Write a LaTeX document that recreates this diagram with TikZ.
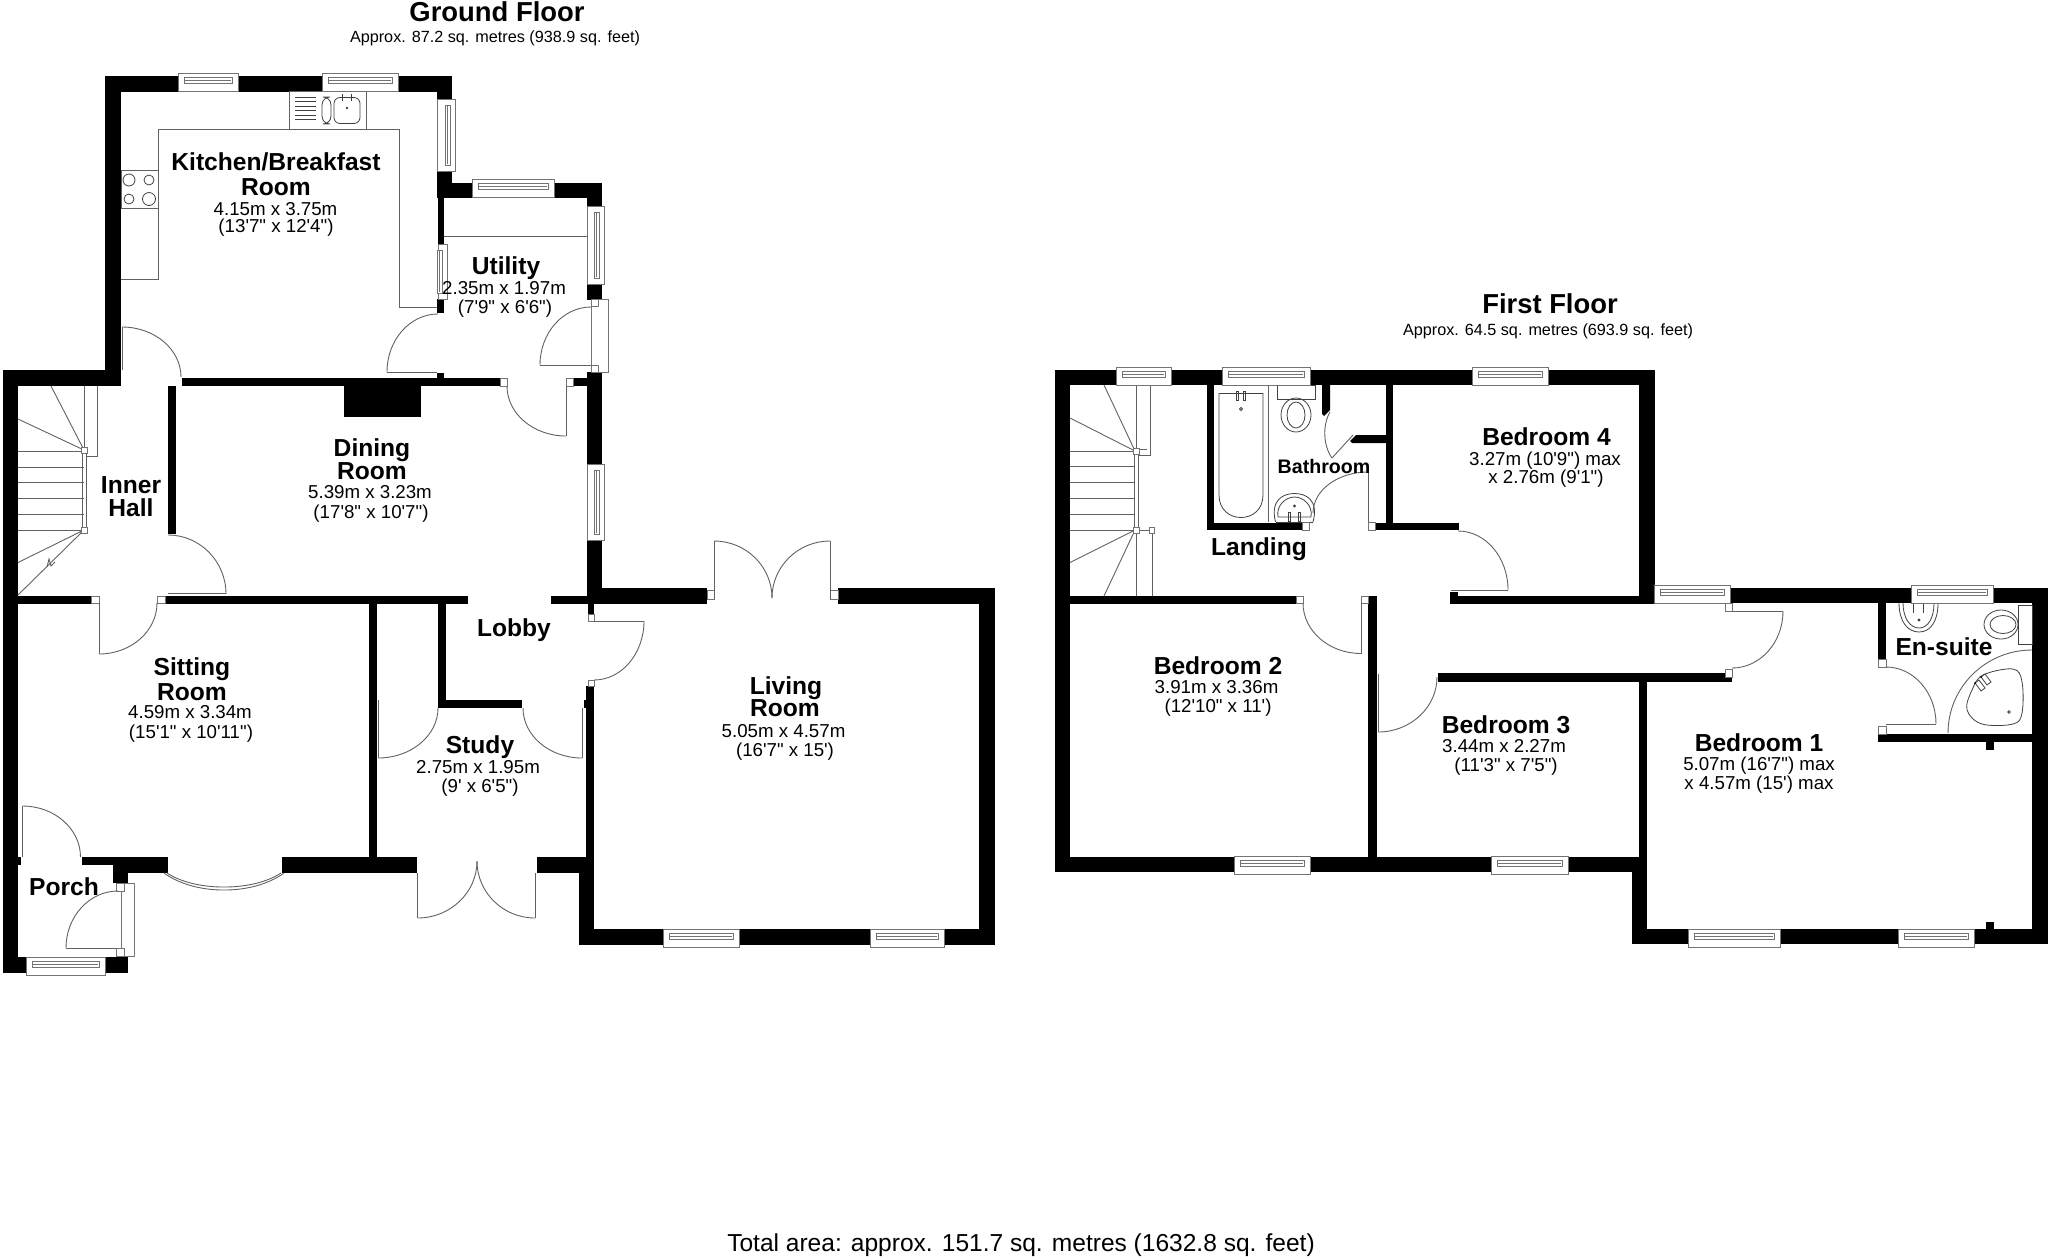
\documentclass[tikz,border=0pt]{standalone}
\usepackage{fontspec}
\setmainfont{Liberation Sans}[Ligatures=TeXOff]
\usetikzlibrary{calc}
\tikzset{
 wall/.style={fill=black},
 ln/.style={draw=black!62,line width=0.45pt,line join=miter},
 fx/.style={draw=black!75,line width=0.4pt},
 win/.style={draw=black!55,line width=0.45pt,fill=white},
 jamb/.style={draw=black!55,line width=0.4pt,fill=white},
 rt/.style={font=\fontsize{12.3}{14}\bfseries\selectfont,inner sep=0pt,text height=8.8pt,text depth=0pt},
 rs/.style={font=\fontsize{9.35}{11}\selectfont,inner sep=0pt,text height=6.7pt,text depth=0pt},
 rb/.style={font=\fontsize{9.8}{11}\bfseries\selectfont,inner sep=0pt,text height=7pt,text depth=0pt},
 ttl/.style={font=\fontsize{13.7}{15}\bfseries\selectfont,inner sep=0pt,text height=9.8pt,text depth=0pt},
 sub/.style={font=\fontsize{8.1}{10}\selectfont,inner sep=0pt,text height=5.8pt,text depth=0pt},
 tot/.style={font=\fontsize{12.27}{14}\selectfont,inner sep=0pt,text height=8.8pt,text depth=0pt},
}
\newcommand{\Wl}[4]{\fill[wall] (#1,#2) rectangle (#3,#4);}
\newcommand{\Jb}[4]{\draw[jamb] (#1,#2) rectangle (#3,#4);}
\newcommand{\Lf}[4]{\draw[ln] (#1,#2) -- (#3,#4);}
% arc from A to B, bulging towards corner K
\newcommand{\Ar}[6]{\draw[ln] (#1,#2) .. controls ($(#1,#2)!.552!(#5,#6)$) and ($(#3,#4)!.552!(#5,#6)$) .. (#3,#4);}
% horizontal window x1 y1 x2 y2
\newcommand{\HW}[4]{%
 \draw[win] (#1,#2) rectangle (#3,#4);
 \draw[win] ($(#1,#2)+(6,4.5)$) rectangle ($(#3,#2)+(-6,10)$);
 \draw[win] ($(#1,#2)+(7,7.2)$) -- ($(#3,#2)+(-7,7.2)$);}
% vertical window
\newcommand{\VW}[4]{%
 \draw[win] (#1,#2) rectangle (#3,#4);
 \draw[win] ($(#3,#2)+(-4.5,6)$) rectangle ($(#3,#4)+(-10,-6)$);
 \draw[win] ($(#3,#2)+(-7.2,7)$) -- ($(#3,#4)+(-7.2,-7)$);}
\begin{document}
\begin{tikzpicture}[x=0.5pt,y=-0.5pt]
\useasboundingbox (0,0) rectangle (2048,1259);
% ---------- GROUND FLOOR: walls
\Wl{105}{76}{452}{91.5}
\Wl{105}{76}{121}{386}
\Wl{3}{370}{121}{386}
\Wl{3}{370}{18}{973}
\Wl{437}{76}{452}{197}
\Wl{437}{182.5}{602}{197.5}
\Wl{438}{197}{444}{245}
\Wl{437}{299}{444}{313}
\Wl{587}{182.5}{602}{300}
\Wl{587}{372}{602}{603}
\Wl{437}{373}{444}{380}
\Wl{182}{378}{500}{386}
\Wl{344}{378}{421}{417}
\Wl{573}{378}{587}{386}
\Wl{168}{386}{175.5}{534}
\Wl{18}{596}{91}{603.5}
\Wl{165}{596}{468}{603.5}
\Wl{551}{596}{588}{603.5}
\Wl{588}{588}{707}{603.5}
\Wl{838}{588}{995}{603.5}
\Wl{979}{588}{995}{945}
\Wl{579}{929}{995}{945}
\Wl{579}{873}{594}{945}
\Wl{586}{686}{594}{873}
\Wl{588}{603}{594}{615}
\Wl{369}{603}{377}{857}
\Wl{282}{857}{417}{873}
\Wl{537}{857}{586}{873}
\Wl{438}{603}{446}{708}
\Wl{438}{700}{522}{708}
\Wl{584}{700}{588}{708}
\Wl{82}{857}{168}{865}
\Wl{113}{857}{168}{873}
\Wl{113}{873}{128}{883}
\Wl{18}{857}{21}{865}
\Wl{3}{957}{26}{973}
\Wl{105}{957}{128}{973}
% ground floor fixtures
\draw[ln] (121,279) -- (158,279) -- (158,129) -- (399,129) -- (399,307) -- (437,307);
\draw[ln] (289,91) rectangle (366,129);
\foreach \yy in {97,101.5,106,110.5,115,119} {\draw[fx] (295,\yy) -- (316,\yy);}
\draw[fx,rounded corners=4pt] (322,97) rectangle (331,124);
\draw[fx,rounded corners=3pt] (334,97.5) rectangle (360,123.5);
\draw[fx] (342,94) -- (342,101) (351,94) -- (351,101);
\draw[fx] (347,108) circle (0.8);
\draw[ln] (121,170) rectangle (158,208);
\draw[fx] (129,180) circle (6);
\draw[fx] (149,180) circle (5);
\draw[fx] (129,199) circle (5);
\draw[fx] (149,199) circle (6.5);
\draw[ln] (444,236) -- (587,236);
% ground floor stairs
\draw[ln] (84,386) -- (84,450);
\draw[ln] (97,386) -- (97,456) -- (86,456);
\draw[ln] (82,450) -- (82,530) (86,450) -- (86,530);
\draw[ln] (84,450) -- (51,386) (84,450) -- (18,419);
\foreach \yy in {451,467,482.5,498.5,514,530} {\draw[ln] (18,\yy) -- (84,\yy);}
\draw[ln] (84,530) -- (18,562.5) (84,530) -- (18,595);
\draw[ln] (47,567) -- (49,559) -- (51,566) -- (55,562);
\Jb{81}{447}{87}{453}
\Jb{81}{527}{87}{533}
% ground floor doors
\Lf{122}{327}{122}{370}
\Ar{122}{327}{181}{377}{181}{327}
\Lf{387}{372}{437}{372}
\Ar{387}{372}{438}{314}{387}{314}
\Lf{566}{386}{566}{436}
\Ar{507}{386}{566}{436}{507}{436}
\Jb{500}{378}{507}{386}
\Jb{566}{378}{573}{386}
\draw[win] (591,299) rectangle (608,372);
\Jb{591}{299}{598}{306}
\Jb{591}{365}{598}{372}
\Lf{540}{365}{591}{365}
\Ar{540}{365}{591}{307}{540}{307}
\Ar{168}{535}{226}{594}{226}{535}
\Lf{168}{593}{226}{593}
\Jb{91}{596}{99}{603.5}
\Jb{157}{596}{165}{603.5}
\Lf{99}{603}{99}{654}
\Ar{157}{603}{99}{654}{157}{654}
\Jb{707}{590}{714}{599}
\Jb{830}{590}{838}{599}
\Lf{714}{599}{714}{541}
\Lf{830}{599}{830}{541}
\Ar{714}{541}{772}{598}{772}{541}
\Ar{830}{541}{772}{598}{772}{541}
\Jb{588}{614}{594}{621}
\Jb{588}{680}{594}{686}
\Lf{594}{621}{644}{621}
\Ar{644}{621}{594}{680}{644}{680}
\Lf{378}{700}{378}{758}
\Ar{378}{758}{438}{708}{438}{758}
\Lf{582}{708}{582}{758}
\Ar{523}{708}{582}{758}{523}{758}
\Lf{417.5}{873}{417.5}{918}
\Lf{535}{873}{535}{918}
\Ar{417.5}{918}{477}{861}{477}{918}
\Ar{535}{918}{477}{861}{477}{918}
\Lf{22.5}{806}{22.5}{857}
\Ar{22.5}{806}{80.5}{857}{80.5}{806}
\draw[win] (121,883) rectangle (134,956);
\Jb{116}{883}{124}{891}
\Jb{116}{948}{124}{956}
\Lf{66}{948}{116}{948}
\Ar{66}{948}{118}{891}{66}{891}
\draw[ln] (164,873) .. controls (195,895.7) and (253,895.7) .. (284,873);
\draw[ln] (167,873) .. controls (195,891.7) and (253,891.7) .. (281,873);
% ground floor windows
\HW{178}{73}{238}{91.5}
\HW{322}{73}{398}{91.5}
\VW{437}{99}{455}{171}
\HW{472}{179}{554}{197.5}
\VW{587}{206}{604}{284}
\VW{438}{244}{447}{299}
\VW{587}{464}{604}{540}
\HW{663}{929}{739}{947}
\HW{870}{929}{944}{947}
\HW{26}{957}{105}{975}
% ---------- FIRST FLOOR: walls
\Wl{1055}{370}{1654.5}{385}
\Wl{1055}{370}{1070}{872}
\Wl{1055}{856.5}{1647}{872}
\Wl{1639}{370}{1654.5}{603}
\Wl{1070}{596}{1296}{603.5}
\Wl{1368}{596}{1377}{857}
\Wl{1450}{596}{1654}{603.5}
\Wl{1450}{592}{1458}{603}
\Wl{1375}{522.5}{1458.5}{530}
\Wl{1385.6}{385}{1392.5}{523}
\fill[wall] (1350,441) -- (1356,435) -- (1386,435) -- (1386,443) -- (1352,443) -- cycle;
\Wl{1207}{385}{1214}{530}
\Wl{1207}{522.5}{1302}{530}
\fill[wall] (1322,385) -- (1330,385) -- (1330,410) -- (1324,416) -- (1322,414) -- cycle;
\Wl{1438}{673}{1732}{682}
\Wl{1639}{682}{1647}{860}
\Wl{1632}{856.5}{1647}{944}
\Wl{1632}{929}{2048}{944}
\Wl{2032}{588}{2048}{944}
\Wl{1654}{588}{2048}{603}
\Wl{1878}{603}{1886}{660}
\Wl{1878}{734}{2032}{742}
\Wl{1986}{742}{1994}{750}
\Wl{1986}{922}{1994}{930}
% first floor fixtures
\draw[ln] (1268,385) -- (1268,522);
\draw[fx] (1219,393.5) -- (1263,393.5) -- (1263,495) .. controls (1263,525) and (1219,525) .. (1219,495) -- cycle;
\draw[fx] (1236,391) rectangle (1238,400) (1243.5,391) rectangle (1245.5,400);
\draw[fx] (1241,409) circle (1.5);
\draw[fx] (1277,385) rectangle (1315,399);
\draw[fx] (1296,415) ellipse (15 and 17);
\draw[fx] (1296,415) ellipse (9 and 13);
\draw[fx] (1275.5,522) .. controls (1270,500) and (1283,493.5) .. (1294.5,493.5) .. controls (1306,493.5) and (1319,500) .. (1313,522);
\draw[fx] (1278,517) .. controls (1276,505) and (1286,497) .. (1294.5,497) .. controls (1303,497) and (1313,505) .. (1311,517) -- cycle;
\draw[fx] (1275.5,522) -- (1313,522);
\draw[fx] (1288,512) rectangle (1290,521) (1298,512) rectangle (1300,521);
\draw[fx] (1294.5,506) circle (1);
% first floor stairs
\draw[ln] (1136,385) -- (1136,451);
\draw[ln] (1134.5,451) -- (1134.5,530) (1138,451) -- (1138,530);
\draw[ln] (1136,530) -- (1136,596);
\draw[ln] (1150,385) -- (1150,455) -- (1139,455) (1139,449) -- (1147,449);
\draw[ln] (1152,530) -- (1152,596) (1139,530) -- (1150,530);
\draw[ln] (1135,451) -- (1104,385) (1135,451) -- (1070,418);
\foreach \yy in {451,466,482,498,514,530} {\draw[ln] (1070,\yy) -- (1135,\yy);}
\draw[ln] (1135,530) -- (1070,562.5) (1135,530) -- (1104,596);
\Jb{1133}{448}{1139}{454}
\Jb{1133}{527}{1139}{533}
\Jb{1149.5}{527}{1154.5}{533}
% first floor doors
\Ar{1330}{412}{1332}{458}{1316}{436}
\Lf{1332}{458}{1353}{435}
\Lf{1368}{472}{1368}{522}
\Ar{1313}{513}{1368}{472}{1313}{472}
\Jb{1302}{522.5}{1309}{530}
\Jb{1368}{522.5}{1375}{530}
\Jb{1296}{596}{1303}{603.5}
\Jb{1361}{596}{1368}{603.5}
\Lf{1361}{603}{1361}{653.5}
\Ar{1303}{603}{1361}{653.5}{1303}{653.5}
\Lf{1451}{590}{1508}{590}
\Ar{1508}{590}{1458}{531}{1508}{531}
\Lf{1378}{674}{1378}{732}
\Ar{1437}{677}{1378}{732}{1437}{732}
\Jb{1725}{603}{1732}{611}
\Jb{1725}{669}{1732}{677}
\Lf{1732}{611}{1783}{611}
\Ar{1783}{611}{1732}{668}{1783}{668}
\Jb{1878}{659}{1886}{667}
\Jb{1878}{726}{1886}{734}
\Lf{1886}{724}{1936}{724}
\Ar{1936}{724}{1886}{667}{1936}{667}
% en-suite fixtures
\draw[fx] (1899,603) .. controls (1899,622) and (1908,632) .. (1919,632) .. controls (1930,632) and (1938,622) .. (1938,603);
\draw[fx] (1903,603) .. controls (1903,618) and (1910,628) .. (1919,628) .. controls (1928,628) and (1934,618) .. (1934,603);
\draw[fx] (1913,603) -- (1913,613) (1923,603) -- (1923,613);
\draw[fx] (1919,620) circle (1);
\draw[fx] (2018,605) rectangle (2032,644);
\draw[fx] (2001,624.5) ellipse (17 and 14.5);
\draw[fx] (2003,624.5) ellipse (13 and 9);
\Ar{2032}{650}{1948}{733}{1948}{650}
\draw[fx] plot[smooth cycle,tension=.6] coordinates {(1983,675) (2013,669) (2022,682) (2022,713) (2013,724) (1982,724) (1967,710) (1972,690)};
\draw[fx] (1975,683) -- (1981,691) -- (1985,688) -- (1979,680) -- cycle;
\draw[fx] (1981,677) -- (1987,685) -- (1991,682) -- (1985,674) -- cycle;
\fill (1975,683) circle (1);
\fill (1981,677) circle (1);
\draw[fx] (2009,712) circle (1.3);
% first floor windows
\HW{1116}{367}{1171}{385}
\HW{1222}{367}{1310}{385}
\HW{1472}{367}{1548}{385}
\HW{1234}{856}{1310}{874}
\HW{1491}{856}{1568}{874}
\HW{1654}{585}{1730}{603}
\HW{1911}{585}{1993}{603}
\HW{1688}{929}{1780}{947}
\HW{1898}{929}{1974}{947}
% ---------- TEXT
\node[ttl] (gf) at (497,12) {Ground Floor};
\node[sub] (gfa) at (495,37) {Approx. 87.2 sq. metres (938.9 sq. feet)};
\node[ttl] (ff) at (1550,304) {First Floor};
\node[sub] (ffa) at (1548,330) {Approx. 64.5 sq. metres (693.9 sq. feet)};
\node[tot] (ta) at (1021,1243) {Total area: approx. 151.7 sq. metres (1632.8 sq. feet)};
\node[rt] (k1) at (276,162) {Kitchen/Breakfast};
\node[rt] (k2) at (276,187) {Room};
\node[rs] (k3) at (275.5,209) {4.15m x 3.75m};
\node[rs] (k4) at (276,226) {(13'7" x 12'4")};
\node[rt] (u1) at (506,266) {Utility};
\node[rs] (u2) at (504,287.5) {2.35m x 1.97m};
\node[rs] (u3) at (505,307) {(7'9" x 6'6")};
\node[rt] (d1) at (372,447.5) {Dining};
\node[rt] (d2) at (372,471) {Room};
\node[rs] (d3) at (370,492) {5.39m x 3.23m};
\node[rs] (d4) at (371,512) {(17'8" x 10'7")};
\node[rt] (h1) at (131,485) {Inner};
\node[rt] (h2) at (131,508) {Hall};
\node[rt] (lb) at (514,628) {Lobby};
\node[rt] (s1) at (192,667) {Sitting};
\node[rt] (s2) at (192,692) {Room};
\node[rs] (s3) at (190,712) {4.59m x 3.34m};
\node[rs] (s4) at (191,732) {(15'1" x 10'11")};
\node[rt] (st1) at (480,745) {Study};
\node[rs] (st2) at (478,767) {2.75m x 1.95m};
\node[rs] (st3) at (480,786) {(9' x 6'5")};
\node[rt] (l1) at (786,686) {Living};
\node[rt] (l2) at (785,708) {Room};
\node[rs] (l3) at (783.5,731) {5.05m x 4.57m};
\node[rs] (l4) at (785,750) {(16'7" x 15')};
\node[rt] (po) at (64,887) {Porch};
\node[rb] (ba) at (1324,466) {Bathroom};
\node[rt] (la) at (1259,546.5) {Landing};
\node[rt] (b41) at (1546.5,437) {Bedroom 4};
\node[rs] (b42) at (1545,459) {3.27m (10'9") max};
\node[rs] (b43) at (1546,477) {x 2.76m (9'1")};
\node[rt] (b21) at (1218,666) {Bedroom 2};
\node[rs] (b22) at (1216.5,687) {3.91m x 3.36m};
\node[rs] (b23) at (1218,706) {(12'10" x 11')};
\node[rt] (b31) at (1506,725) {Bedroom 3};
\node[rs] (b32) at (1504,746) {3.44m x 2.27m};
\node[rs] (b33) at (1506,765) {(11'3" x 7'5")};
\node[rt] (b11) at (1759,743) {Bedroom 1};
\node[rs] (b12) at (1759,764) {5.07m (16'7") max};
\node[rs] (b13) at (1759,783) {x 4.57m (15') max};
\node[rt] (es) at (1944,647) {En-suite};
\end{tikzpicture}
\end{document}
